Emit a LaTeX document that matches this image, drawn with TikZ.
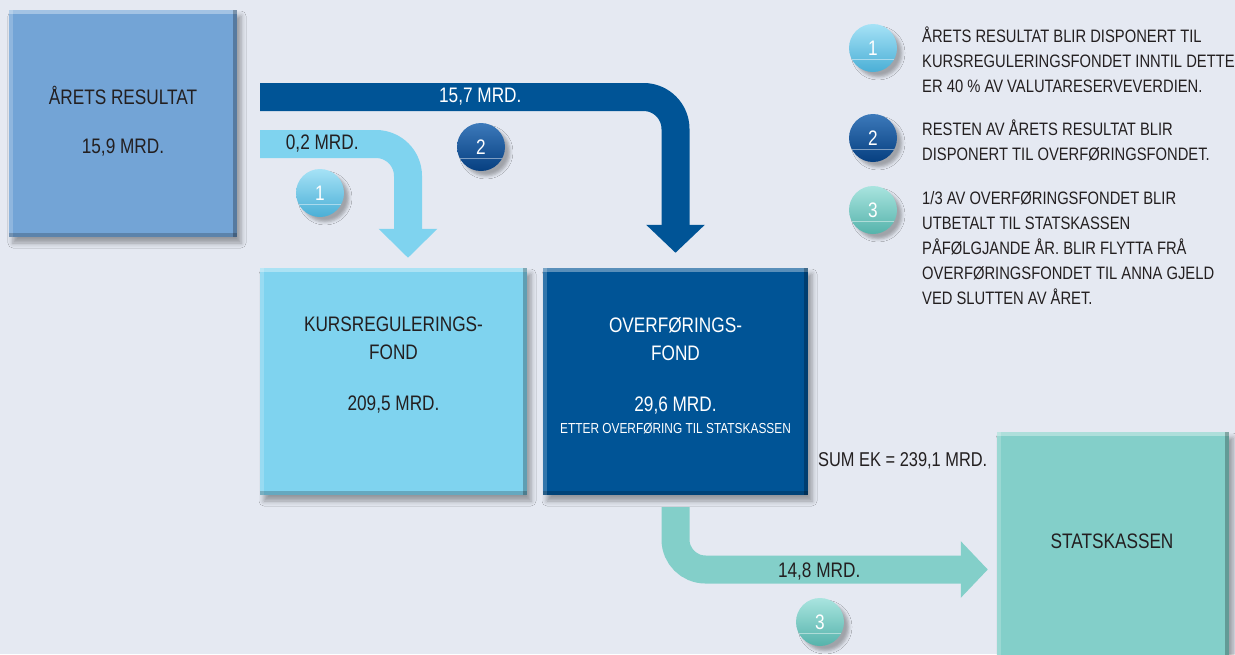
\documentclass[tikz,border=0pt]{standalone}
\usepackage{fontspec}
\setmainfont{Liberation Sans}[FakeStretch=0.82]
\usetikzlibrary{arrows.meta,shadows.blur,positioning,calc}

\definecolor{bgcol}{HTML}{E5E9F2}
\definecolor{resblue}{HTML}{73A4D6}
\definecolor{kursblue}{HTML}{7FD3EF}
\definecolor{overblue}{HTML}{005496}
\definecolor{statsteal}{HTML}{83CFC9}
\definecolor{inkcol}{HTML}{231F20}
\definecolor{onetop}{HTML}{A6E2F6}
\definecolor{onebot}{HTML}{4AAFD6}
\definecolor{twotop}{HTML}{3C79BA}
\definecolor{twobot}{HTML}{063F80}
\definecolor{threetop}{HTML}{A9E4DF}
\definecolor{threebot}{HTML}{55B3AB}

\newcommand\boxfont{\fontsize{21}{28}\selectfont}
\newcommand\keyfont{\fontsize{18}{25}\selectfont}
\newcommand\notefont{\fontsize{14.5}{17}\selectfont}

\tikzset{
  panel/.style={fill=#1, inner sep=0pt,
    blur shadow={shadow xshift=4pt, shadow yshift=-6pt, shadow blur radius=5pt, shadow opacity=35},
    path picture={
      \fill[white,opacity=.35] (path picture bounding box.north west) rectangle ([yshift=-4pt]path picture bounding box.north east);
      \fill[white,opacity=.2] (path picture bounding box.north west) rectangle ([xshift=4pt]path picture bounding box.south west);
      \fill[black,opacity=.25] ([xshift=-4pt]path picture bounding box.north east) rectangle (path picture bounding box.south east);
      \fill[black,opacity=.2] ([yshift=4pt]path picture bounding box.south west) rectangle (path picture bounding box.south east);
    }},
  boxtext/.style={font=\boxfont, text=inkcol, align=center, inner sep=0pt},
  flow/.style={draw=#1, line width=28pt, rounded corners=32pt},
  flowtext/.style={font=\boxfont, text=inkcol, inner sep=0pt},
  badge/.style 2 args={circle, minimum size=48pt, inner sep=0pt, top color=#1, bottom color=#2,
    text=white, font=\fontsize{21}{22}\selectfont,
    blur shadow={shadow xshift=5pt, shadow yshift=-5pt, shadow blur radius=3pt, shadow opacity=30},
    path picture={
      \draw[white,opacity=.45,line width=.6pt] ([yshift=13pt]path picture bounding box.south west) -- ([yshift=13pt]path picture bounding box.south east);
    }},
  keytext/.style={font=\keyfont, text=inkcol, align=left, inner sep=0pt, anchor=north west}
}

\begin{document}
\begin{tikzpicture}[x=1pt, y=-1pt]
  \useasboundingbox (0,0) rectangle (1235,654);
  \fill[bgcol] (0,0) rectangle (1235,654);
  \clip (0,0) rectangle (1235,654);

  % boxes
  \node[panel=resblue, minimum width=228pt, minimum height=227pt] (aarets) at (123,123.5) {};
  \node[panel=kursblue, minimum width=267pt, minimum height=227pt] (kurs) at (393.5,381.5) {};
  \node[panel=overblue, minimum width=265pt, minimum height=227pt] (overf) at (675.5,381.5) {};
  \node[panel=statsteal, minimum width=232pt, minimum height=268pt] (stats) at (1113,566) {};

  \node[boxtext] (aaretslbl) at (123,121) {ÅRETS RESULTAT\\[21pt]15,9 MRD.};
  \node[boxtext] (kurslbl) at (393.5,365.5) {KURSREGULERINGS-\\FOND\\[23pt]209,5 MRD.};
  \node[boxtext, text=white] (overflbl) at (675.5,366) {OVERFØRINGS-\\FOND\\[23pt]29,6 MRD.};
  \node[font=\notefont, text=white, inner sep=0pt] (overfnote) at (675.5,428) {ETTER OVERFØRING TIL STATSKASSEN};
  \node[boxtext] (statslbl) at (1112,541) {STATSKASSEN};
  \node[boxtext, font=\fontsize{20}{24}\selectfont, anchor=west] (sumek) at (818,461) {SUM EK = 239,1 MRD.};

  % flows
  \draw[flow=kursblue, -{Triangle[width=57pt,length=29pt]}]
    ($(aarets.east)+(23,20.5)$) -| node[flowtext, pos=.21] (lbl02) {0,2 MRD.} ($(kurs.north)+(14.5,-10)$);
  \draw[flow=overblue, -{Triangle[width=57pt,length=28pt]}]
    ($(aarets.east)+(23,-26.5)$) -| node[flowtext, text=white, pos=.265] (lbl157) {15,7 MRD.} ($(overf.north)+(0,-15)$);
  \draw[flow=statsteal, rounded corners=30pt, -{Triangle[width=55pt,length=27pt]}]
    ($(overf.south)+(0,12)$) |- node[flowtext, pos=.73, yshift=-2pt] (lbl148) {14,8 MRD.} ($(stats.west)+(-9,3.5)$);

  % numbered badges
  \node[badge={onetop}{onebot}] (badge1) at (320,193) {1};
  \node[badge={twotop}{twobot}] (badge2) at (481,147) {2};
  \node[badge={threetop}{threebot}] (badge3) at (820,622) {3};

  % key
  \node[badge={onetop}{onebot}] (key1) at (873,48) {1};
  \node[badge={twotop}{twobot}] (key2) at (873,138) {2};
  \node[badge={threetop}{threebot}] (key3) at (873,210) {3};
  \node[keytext] (keytext1) at (922,27) {ÅRETS RESULTAT BLIR DISPONERT TIL\\KURSREGULERINGSFONDET INNTIL DETTE\\ER 40 \% AV VALUTARESERVEVERDIEN.};
  \node[keytext] (keytext2) at (922,120) {RESTEN AV ÅRETS RESULTAT BLIR\\DISPONERT TIL OVERFØRINGSFONDET.};
  \node[keytext] (keytext3) at (922,191) {1/3 AV OVERFØRINGSFONDET BLIR\\UTBETALT TIL STATSKASSEN\\PÅFØLGJANDE ÅR. BLIR FLYTTA FRÅ\\OVERFØRINGSFONDET TIL ANNA GJELD\\VED SLUTTEN AV ÅRET.};
\end{tikzpicture}
\end{document}
